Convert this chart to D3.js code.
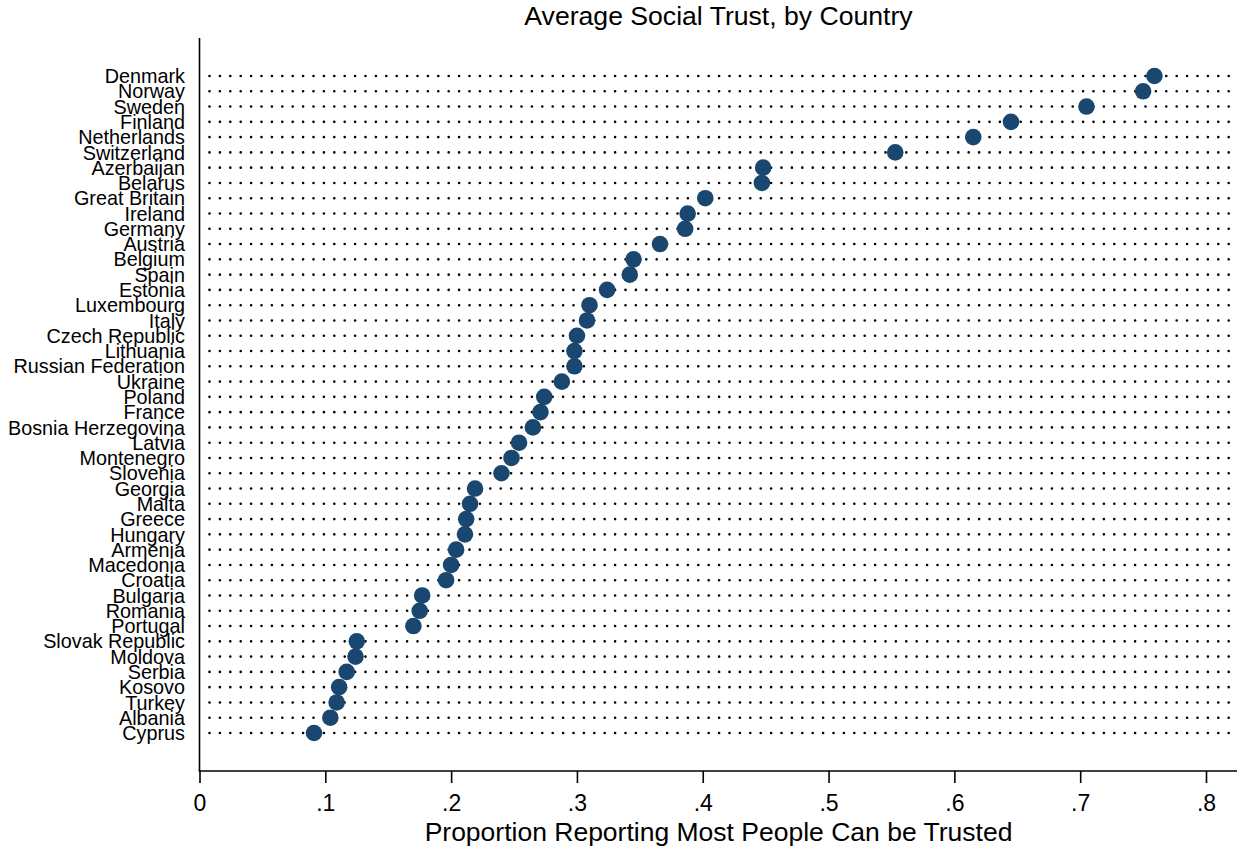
<!DOCTYPE html>
<html>
<head>
<meta charset="utf-8">
<script src="https://cdn.jsdelivr.net/npm/d3@7"></script>
<style>
  html, body { margin: 0; padding: 0; background: #fff; }
  svg { display: block; }
  text { font-family: "Liberation Sans", Arial, Helvetica, sans-serif; fill: #000; }
</style>
</head>
<body>
<svg id="chart" width="1241" height="850"></svg>
<script>
const countries = ["Denmark","Norway","Sweden","Finland","Netherlands","Switzerland","Azerbaijan","Belarus","Great Britain","Ireland","Germany","Austria","Belgium","Spain","Estonia","Luxembourg","Italy","Czech Republic","Lithuania","Russian Federation","Ukraine","Poland","France","Bosnia Herzegovina","Latvia","Montenegro","Slovenia","Georgia","Malta","Greece","Hungary","Armenia","Macedonia","Croatia","Bulgaria","Romania","Portugal","Slovak Republic","Moldova","Serbia","Kosovo","Turkey","Albania","Cyprus"];
const trust = [0.759,0.750,0.705,0.645,0.615,0.553,0.448,0.447,0.402,0.388,0.386,0.366,0.345,0.342,0.324,0.310,0.308,0.300,0.298,0.298,0.288,0.274,0.271,0.265,0.254,0.248,0.240,0.219,0.215,0.212,0.211,0.204,0.200,0.196,0.177,0.175,0.170,0.125,0.124,0.117,0.111,0.109,0.104,0.091];
const xTicks = [0,0.1,0.2,0.3,0.4,0.5,0.6,0.7,0.8];
const xTickLabels = ["0",".1",".2",".3",".4",".5",".6",".7",".8"];
const title = "Average Social Trust, by Country";
const xTitle = "Proportion Reporting Most People Can be Trusted";

const svg = d3.select("#chart");
const plotLeft = 200, plotRight = 1237, plotTop = 38, plotBottom = 771;

const x = d3.scaleLinear().domain([0, 0.8]).range([199.5, 1206]);
const y = d3.scalePoint().domain(countries).range([76, 733]);

// title
svg.append("text")
  .attr("x", (plotLeft + plotRight) / 2)
  .attr("y", 25)
  .attr("text-anchor", "middle")
  .style("font-size", "26.6px")
  .text(title);

// dotted guide lines
svg.append("g").selectAll("line").data(countries).join("line")
  .attr("x1", 209.5)
  .attr("x2", plotRight + 1)
  .attr("y1", d => y(d))
  .attr("y2", d => y(d))
  .attr("stroke", "#000")
  .attr("stroke-width", 2.6)
  .attr("stroke-linecap", "round")
  .attr("stroke-dasharray", "0,10.4");

// category labels
svg.append("g").selectAll("text").data(countries).join("text")
  .attr("x", 185)
  .attr("y", d => y(d))
  .attr("dy", "0.36em")
  .attr("text-anchor", "end")
  .style("font-size", "19.8px")
  .text(d => d);

// y axis line
svg.append("line")
  .attr("x1", plotLeft - 0.5).attr("x2", plotLeft - 0.5)
  .attr("y1", plotTop).attr("y2", plotBottom)
  .attr("stroke", "#000").attr("stroke-width", 1.6);

// x axis
const xAxis = d3.axisBottom(x)
  .tickValues(xTicks)
  .tickFormat((d, i) => xTickLabels[i])
  .tickSize(12)
  .tickPadding(12)
  .tickSizeOuter(0);
const gx = svg.append("g")
  .attr("transform", `translate(0,${plotBottom})`)
  .call(xAxis);
gx.select(".domain").remove();
gx.selectAll(".tick line").attr("stroke", "#000").attr("stroke-width", 1.6);
gx.selectAll(".tick text")
  .style("font-size", "23px")
  .style("font-family", "'Liberation Sans', Arial, sans-serif")
  .attr("fill", "#000");
svg.append("line")
  .attr("x1", plotLeft - 1.3).attr("x2", plotRight)
  .attr("y1", plotBottom).attr("y2", plotBottom)
  .attr("stroke", "#000").attr("stroke-width", 1.6);

// x title
svg.append("text")
  .attr("x", (plotLeft + plotRight) / 2)
  .attr("y", 841)
  .attr("text-anchor", "middle")
  .style("font-size", "26.5px")
  .text(xTitle);

// points
svg.append("g").selectAll("circle").data(countries).join("circle")
  .attr("cx", (d, i) => x(trust[i]))
  .attr("cy", d => y(d))
  .attr("r", 8.3)
  .attr("fill", "#1a476f");
</script>
</body>
</html>
